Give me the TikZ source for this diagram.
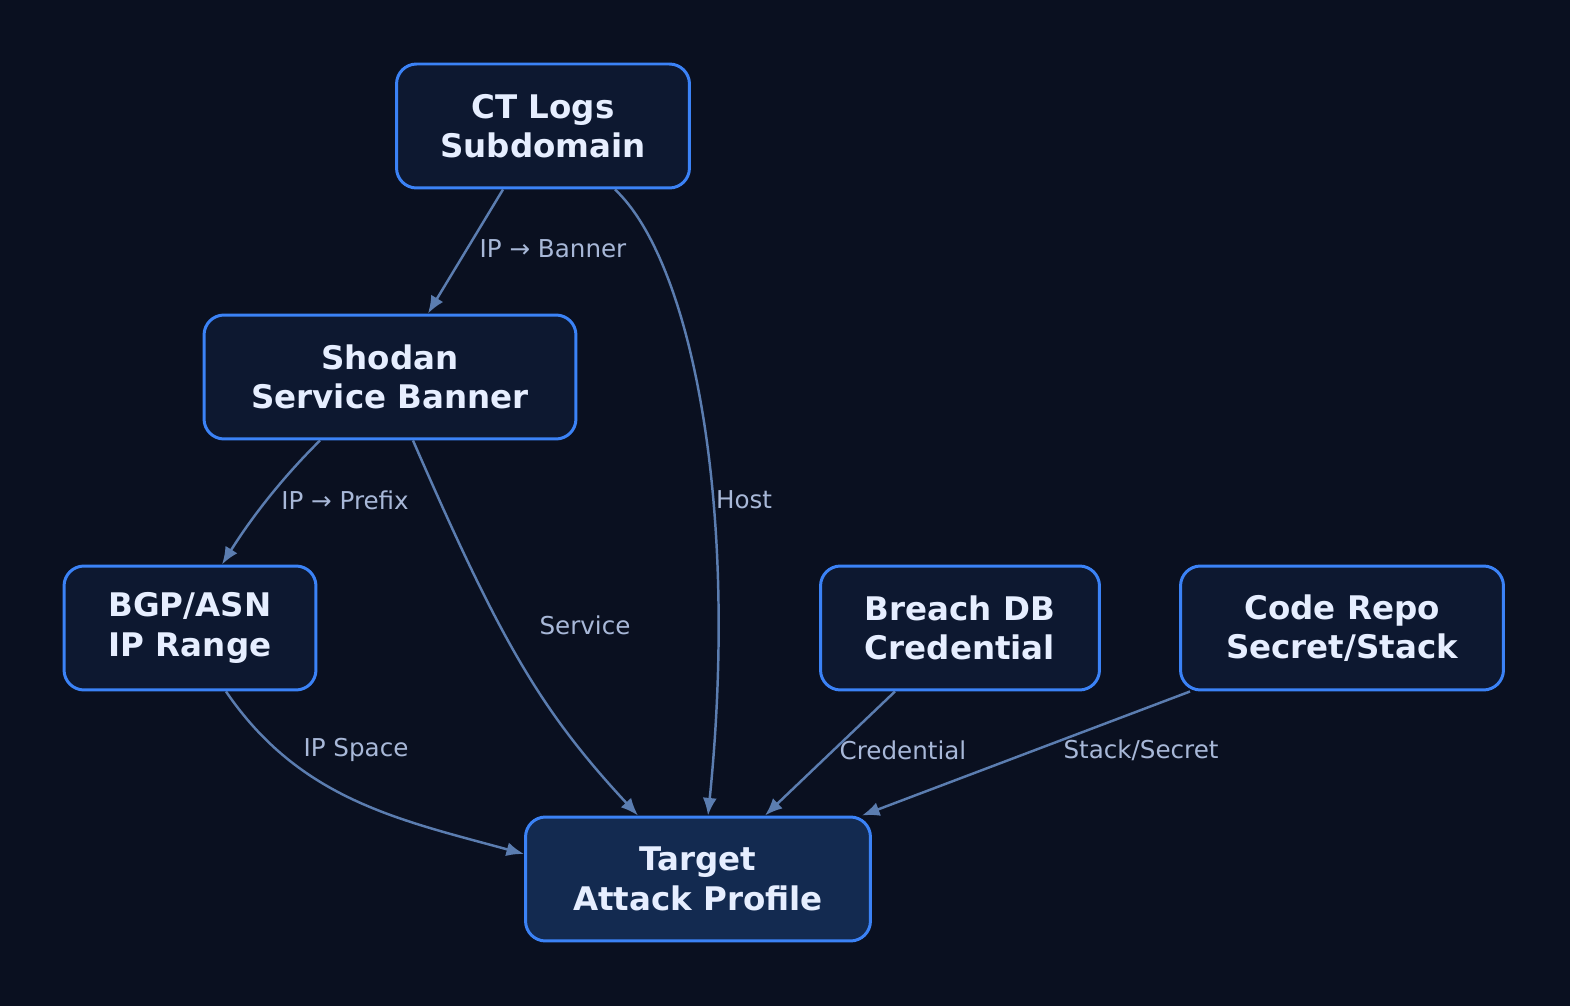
\documentclass[tikz,border=0pt]{standalone}
\usepackage{fontspec}
\setmainfont{DejaVu Sans}
\usetikzlibrary{arrows.meta}
\definecolor{bgc}{HTML}{0A1020}
\definecolor{boxfill}{HTML}{0D1830}
\definecolor{goalfill}{HTML}{132A50}
\definecolor{boxline}{HTML}{3B82F6}
\definecolor{boxtext}{HTML}{E6EEFF}
\definecolor{edgec}{HTML}{5B7DB0}
\definecolor{labelc}{HTML}{A8B8D8}
\tikzset{
    source/.style = {
        rectangle,
        rounded corners=0.4cm,
        minimum height=2.48cm,
        align=center,
        line width=1.7pt,
        draw=boxline,
        fill=boxfill,
        text=boxtext,
        font=\fontsize{18.5}{22.5}\selectfont\bfseries,
    },
    goal/.style = {
        source,
        fill=goalfill,
    },
    tag/.style = {
        text=labelc,
        font=\fontsize{14}{16}\selectfont,
        inner sep=1pt,
    },
}
\tikzstyle{arrow} = [
    line width=1.4pt,
    draw=edgec,
    -{Latex[length=10pt,width=8pt]}
]
\begin{document}
\begin{tikzpicture}[x=0.02cm,y=-0.02cm]
        \fill [bgc] (0,0) rectangle (1570,1006);
        \useasboundingbox (0,0) rectangle (1570,1006);

        \node [source, minimum width=5.86cm] (ct) at (543,126)
        {CT Logs\\Subdomain};

        \node [source, minimum width=7.44cm] (shodan) at (390,377)
        {Shodan\\Service Banner};

        \node [source, minimum width=5.04cm] (bgp) at (190,628)
        {BGP/ASN\\IP Range};

        \node [source, minimum width=5.58cm] (breach) at (960,628)
        {Breach DB\\Credential};

        \node [source, minimum width=6.46cm] (repo) at (1342,628)
        {Code Repo\\Secret/Stack};

        \node [goal, minimum width=6.9cm] (target) at (698,879)
        {Target\\Attack Profile};

        \node [tag] (lbanner) at (553,249) {IP → Banner};
        \node [tag] (lhost) at (744,500) {Host};
        \node [tag] (lprefix) at (345,500) {IP → Prefix};
        \node [tag] (lservice) at (585,625) {Service};
        \node [tag] (lspace) at (356,750) {IP Space};
        \node [tag] (lcred) at (903,750) {Credential};
        \node [tag] (lstack) at (1141,750) {Stack/Secret};

        \draw [arrow] ([xshift=-0.8cm]ct.south) -- ([xshift=0.76cm]shodan.north);
        \draw [arrow] ([xshift=1.44cm]ct.south) .. controls (690,260) and (740,500) .. ([xshift=0.2cm]target.north);
        \draw [arrow] ([xshift=-1.4cm]shodan.south) .. controls (280,480) and (250,520) .. ([xshift=0.64cm]bgp.north);
        \draw [arrow] ([xshift=0.46cm]shodan.south) .. controls (500,640) and (540,710) .. ([xshift=-1.2cm]target.north);
        \draw [arrow] ([xshift=0.72cm]bgp.south) .. controls (300,800) and (400,820) .. ([yshift=0.5cm]target.west);
        \draw [arrow] ([xshift=-1.3cm]breach.south) -- ([xshift=1.34cm]target.north);
        \draw [arrow] ([xshift=-3.04cm]repo.south) -- ([xshift=-0.2cm]target.north east);

    \end{tikzpicture}
\end{document}
